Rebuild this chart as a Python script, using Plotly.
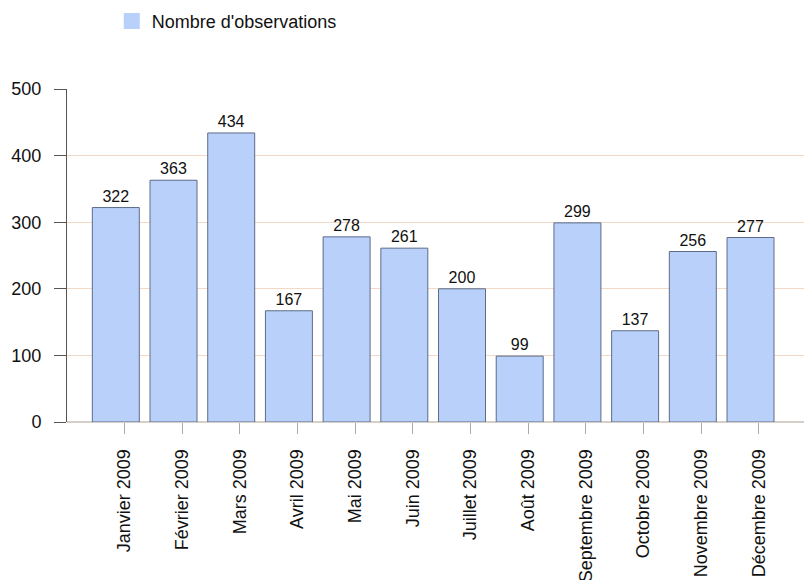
import plotly.graph_objects as go

categories = ["Janvier 2009", "Février 2009", "Mars 2009", "Avril 2009", "Mai 2009",
              "Juin 2009", "Juillet 2009", "Août 2009", "Septembre 2009",
              "Octobre 2009", "Novembre 2009", "Décembre 2009"]
observations = [322, 363, 434, 167, 278, 261, 200, 99, 299, 137, 256, 277]
series_name = "Nombre d'observations"
y_ticks = [0, 100, 200, 300, 400, 500]

idx = list(range(len(categories)))
FONT = "Liberation Sans, Arial, sans-serif"
BAR_FILL = "#b9d1fa"
BAR_LINE = "#5c6c88"

x_range = [-0.846, 11.927]
shift = 0.147

fig = go.Figure()
fig.add_trace(go.Bar(
    x=idx, y=observations, text=observations, textposition="outside",
    textfont=dict(size=16, color="#111", family=FONT),
    marker=dict(color=BAR_FILL, line=dict(color=BAR_LINE, width=1)),
    showlegend=False, cliponaxis=False, hoverinfo="skip",
))
# legend proxy
fig.add_trace(go.Scatter(
    x=[None], y=[None], mode="markers", name=series_name,
    marker=dict(symbol="square", size=16, color=BAR_FILL, line=dict(width=0)),
))
# tick/label axis (slightly offset, as in the reference)
fig.add_trace(go.Scatter(
    x=idx, y=observations, xaxis="x2", mode="markers",
    marker=dict(opacity=0), showlegend=False, hoverinfo="skip",
))

fig.update_layout(
    width=804, height=580,
    margin=dict(l=67, r=0, t=89, b=158),
    paper_bgcolor="white", plot_bgcolor="white",
    font=dict(family=FONT, size=18, color="#111"),
    bargap=0.186,
    showlegend=True,
    legend=dict(orientation="h", xref="container", yref="container",
                x=0.139, y=0.995, xanchor="left", yanchor="top",
                font=dict(size=18, color="#111"), bgcolor="rgba(0,0,0,0)"),
    xaxis=dict(range=x_range, showticklabels=False, ticks="", showgrid=False,
               zeroline=False, showline=False, automargin=False),
    xaxis2=dict(overlaying="x", side="bottom", anchor="y",
                range=[x_range[0] - shift, x_range[1] - shift],
                tickmode="array", tickvals=idx, ticktext=categories,
                tickangle=-90, ticks="outside", ticklen=11, tickcolor="#aaaaaa",
                tickwidth=1, showgrid=False, zeroline=False, showline=False,
                ticklabelstandoff=8, automargin=False,
                tickfont=dict(size=18, color="#111", family=FONT)),
    yaxis=dict(range=[0, 500], tickmode="array", tickvals=y_ticks,
               ticks="outside", ticklen=12, tickcolor="#555555",
               showline=True, linecolor="#555555", linewidth=1,
               showgrid=True, gridcolor="#f3d8c6", gridwidth=1,
               zeroline=True, zerolinecolor="#d6cfc6", zerolinewidth=2,
               ticklabelstandoff=9, automargin=False,
               tickfont=dict(size=18, color="#111", family=FONT)),
)

fig.write_html("out.html")
